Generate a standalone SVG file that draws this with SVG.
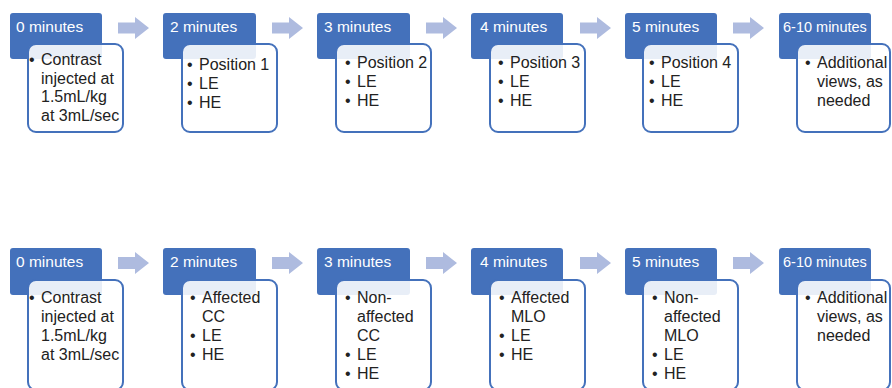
<svg xmlns="http://www.w3.org/2000/svg" width="892" height="388" viewBox="0 0 892 388">
<style>
.hdr{fill:#4471bb;}
.box{fill:#ffffff;fill-opacity:0.88;stroke:#4471bb;stroke-width:2;}
.arr{fill:#aebbdf;}
.ht{font-family:"Liberation Sans",Arial,sans-serif;font-size:15.5px;fill:#ffffff;}
.ht2{font-family:"Liberation Sans",Arial,sans-serif;font-size:14.5px;fill:#ffffff;}
.bt{font-family:"Liberation Sans",Arial,sans-serif;font-size:16px;fill:#222222;}
</style>
<rect width="892" height="388" fill="#ffffff"/>
<g id="connectors">
<polygon class="arr" points="118,22.5 135,22.5 135,17 149,28 135,39 135,33.5 118,33.5"/>
<polygon class="arr" points="272,22.5 289,22.5 289,17 303,28 289,39 289,33.5 272,33.5"/>
<polygon class="arr" points="426,22.5 443,22.5 443,17 457,28 443,39 443,33.5 426,33.5"/>
<polygon class="arr" points="580,22.5 597,22.5 597,17 611,28 597,39 597,33.5 580,33.5"/>
<polygon class="arr" points="733,22.5 750,22.5 750,17 764,28 750,39 750,33.5 733,33.5"/>
<polygon class="arr" points="118,257 135,257 135,252 149,263 135,274 135,269 118,269"/>
<polygon class="arr" points="272,257 289,257 289,252 303,263 289,274 289,269 272,269"/>
<polygon class="arr" points="426,257 443,257 443,252 457,263 443,274 443,269 426,269"/>
<polygon class="arr" points="580,257 597,257 597,252 611,263 597,274 597,269 580,269"/>
<polygon class="arr" points="733,257 750,257 750,252 764,263 750,274 750,269 733,269"/>
</g>
<g id="t1">
<rect class="hdr" x="10" y="13" width="92" height="46" rx="3"/>
<text class="ht" x="16" y="32">0 minutes</text>
<rect class="box" x="28" y="44" width="95" height="88" rx="8"/>
<text class="bt" x="29" y="65">•</text>
<text class="bt" x="41" y="65">Contrast</text>
<text class="bt" x="41" y="84">injected at</text>
<text class="bt" x="41" y="102">1.5mL/kg</text>
<text class="bt" x="41" y="121">at 3mL/sec</text>
</g>
<g id="t2">
<rect class="hdr" x="163" y="13" width="93" height="46" rx="3"/>
<text class="ht" x="170" y="32">2 minutes</text>
<rect class="box" x="182" y="44" width="95" height="88" rx="8"/>
<text class="bt" x="187" y="70">•</text><text class="bt" x="199" y="70">Position 1</text>
<text class="bt" x="187" y="89">•</text><text class="bt" x="199" y="89">LE</text>
<text class="bt" x="187" y="108">•</text><text class="bt" x="199" y="108">HE</text>
</g>
<g id="t3">
<rect class="hdr" x="317" y="13" width="93" height="46" rx="3"/>
<text class="ht" x="324" y="32">3 minutes</text>
<rect class="box" x="336" y="44" width="95" height="88" rx="8"/>
<text class="bt" x="345" y="68">•</text><text class="bt" x="357" y="68">Position 2</text>
<text class="bt" x="345" y="87">•</text><text class="bt" x="357" y="87">LE</text>
<text class="bt" x="345" y="106">•</text><text class="bt" x="357" y="106">HE</text>
</g>
<g id="t4">
<rect class="hdr" x="471" y="13" width="92" height="46" rx="3"/>
<text class="ht" x="480" y="32">4 minutes</text>
<rect class="box" x="490" y="44" width="95" height="88" rx="8"/>
<text class="bt" x="498" y="68">•</text><text class="bt" x="510" y="68">Position 3</text>
<text class="bt" x="498" y="87">•</text><text class="bt" x="510" y="87">LE</text>
<text class="bt" x="498" y="106">•</text><text class="bt" x="510" y="106">HE</text>
</g>
<g id="t5">
<rect class="hdr" x="625" y="13" width="92" height="46" rx="3"/>
<text class="ht" x="632" y="32">5 minutes</text>
<rect class="box" x="643" y="44" width="95" height="88" rx="8"/>
<text class="bt" x="649" y="68">•</text><text class="bt" x="661" y="68">Position 4</text>
<text class="bt" x="649" y="87">•</text><text class="bt" x="661" y="87">LE</text>
<text class="bt" x="649" y="106">•</text><text class="bt" x="661" y="106">HE</text>
</g>
<g id="t6">
<rect class="hdr" x="779" y="13" width="92" height="46" rx="3"/>
<text class="ht2" x="783" y="32">6-10 minutes</text>
<rect class="box" x="797" y="44" width="93" height="88" rx="8"/>
<text class="bt" x="805" y="68">•</text><text class="bt" x="817" y="68">Additional</text>
<text class="bt" x="817" y="87">views, as</text>
<text class="bt" x="817" y="106">needed</text>
</g>
<g id="b1">
<rect class="hdr" x="10" y="248" width="92" height="47" rx="3"/>
<text class="ht" x="16" y="267">0 minutes</text>
<rect class="box" x="28" y="280" width="95" height="110" rx="8"/>
<text class="bt" x="29" y="303">•</text>
<text class="bt" x="41" y="303">Contrast</text>
<text class="bt" x="41" y="322">injected at</text>
<text class="bt" x="41" y="341">1.5mL/kg</text>
<text class="bt" x="41" y="360">at 3mL/sec</text>
</g>
<g id="b2">
<rect class="hdr" x="163" y="248" width="93" height="47" rx="3"/>
<text class="ht" x="170" y="267">2 minutes</text>
<rect class="box" x="182" y="280" width="95" height="110" rx="8"/>
<text class="bt" x="190" y="303">•</text><text class="bt" x="202" y="303">Affected</text>
<text class="bt" x="202" y="322">CC</text>
<text class="bt" x="190" y="341">•</text><text class="bt" x="202" y="341">LE</text>
<text class="bt" x="190" y="360">•</text><text class="bt" x="202" y="360">HE</text>
</g>
<g id="b3">
<rect class="hdr" x="317" y="248" width="93" height="47" rx="3"/>
<text class="ht" x="324" y="267">3 minutes</text>
<rect class="box" x="336" y="280" width="95" height="110" rx="8"/>
<text class="bt" x="345" y="303">•</text><text class="bt" x="357" y="303">Non-</text>
<text class="bt" x="357" y="322">affected</text>
<text class="bt" x="357" y="341">CC</text>
<text class="bt" x="345" y="360">•</text><text class="bt" x="357" y="360">LE</text>
<text class="bt" x="345" y="379">•</text><text class="bt" x="357" y="379">HE</text>
</g>
<g id="b4">
<rect class="hdr" x="471" y="248" width="92" height="47" rx="3"/>
<text class="ht" x="480" y="267">4 minutes</text>
<rect class="box" x="490" y="280" width="95" height="110" rx="8"/>
<text class="bt" x="499" y="303">•</text><text class="bt" x="511" y="303">Affected</text>
<text class="bt" x="511" y="322">MLO</text>
<text class="bt" x="499" y="341">•</text><text class="bt" x="511" y="341">LE</text>
<text class="bt" x="499" y="360">•</text><text class="bt" x="511" y="360">HE</text>
</g>
<g id="b5">
<rect class="hdr" x="625" y="248" width="92" height="47" rx="3"/>
<text class="ht" x="632" y="267">5 minutes</text>
<rect class="box" x="643" y="280" width="95" height="110" rx="8"/>
<text class="bt" x="652" y="303">•</text><text class="bt" x="664" y="303">Non-</text>
<text class="bt" x="664" y="322">affected</text>
<text class="bt" x="664" y="341">MLO</text>
<text class="bt" x="652" y="360">•</text><text class="bt" x="664" y="360">LE</text>
<text class="bt" x="652" y="379">•</text><text class="bt" x="664" y="379">HE</text>
</g>
<g id="b6">
<rect class="hdr" x="779" y="248" width="92" height="47" rx="3"/>
<text class="ht2" x="783" y="267">6-10 minutes</text>
<rect class="box" x="797" y="280" width="93" height="110" rx="8"/>
<text class="bt" x="805" y="303">•</text><text class="bt" x="817" y="303">Additional</text>
<text class="bt" x="817" y="322">views, as</text>
<text class="bt" x="817" y="341">needed</text>
</g>
</svg>
